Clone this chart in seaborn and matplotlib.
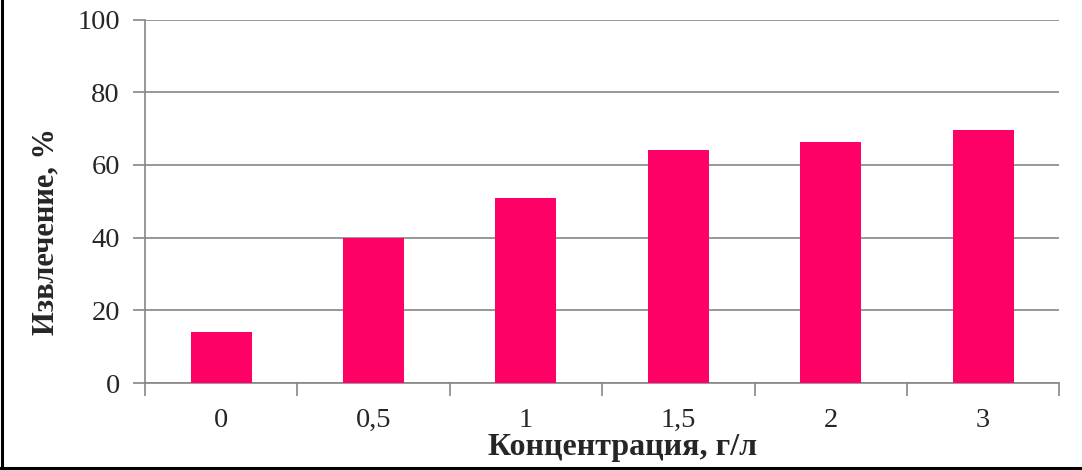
import matplotlib
matplotlib.use("Agg")
import matplotlib.pyplot as plt
import pandas as pd
import seaborn as sns
from matplotlib.lines import Line2D

concentration = ["0", "0,5", "1", "1,5", "2", "3"]
extraction = [14.0, 40.0, 50.8, 64.0, 66.2, 69.5]

data = pd.DataFrame({"conc": concentration, "value": extraction})

sns.set_style("white")
plt.rcParams["font.family"] = ["Liberation Serif", "DejaVu Serif"]

fig = plt.figure(figsize=(10.82, 4.70), dpi=100)
ax = fig.add_axes([0.134, 0.185, 0.845, 0.7735])

sns.barplot(data=data, x="conc", y="value", color="#FF0066", saturation=1,
            width=0.4, linewidth=0, ax=ax, zorder=3)

grid_c = "#868686"
ax.set_ylim(0, 100)
ax.set_xlim(-0.5, 5.5)
ax.set_yticks(range(0, 101, 20))
ax.yaxis.grid(True, color=grid_c, linewidth=1.2, zorder=0)
ax.set_axisbelow(True)

for s in ["top", "right"]:
    ax.spines[s].set_visible(False)
for s in ["left", "bottom"]:
    ax.spines[s].set_color(grid_c)
    ax.spines[s].set_linewidth(1.2)

ax.tick_params(axis="y", which="major", length=9, color=grid_c, width=1.2,
               labelsize=20.5, pad=9, left=True)
ax.tick_params(axis="x", which="major", length=0, labelsize=20.5, pad=18)
ax.set_xticks([i - 0.5 for i in range(7)], minor=True)
ax.tick_params(axis="x", which="minor", length=9, color=grid_c, width=1.2,
               bottom=True)

ax.set_xlabel("Концентрация, г/л", fontsize=23, fontweight="bold")
ax.xaxis.label.set_va("center")
ax.xaxis.set_label_coords(0.522, -0.178)
ax.set_ylabel("Извлечение, %", fontsize=22, fontweight="bold")
ax.yaxis.label.set_va("center")
ax.yaxis.set_label_coords(-0.108, 0.418)

# partial frame: only left and bottom edges are visible in the original
fig.lines.append(Line2D([0.0015, 0.0015], [0.0, 1.0], transform=fig.transFigure,
                        color="black", linewidth=2.2))
fig.lines.append(Line2D([0.0, 1.0], [0.004, 0.004], transform=fig.transFigure,
                        color="black", linewidth=2.2))

fig.savefig("out.png", dpi=100)
